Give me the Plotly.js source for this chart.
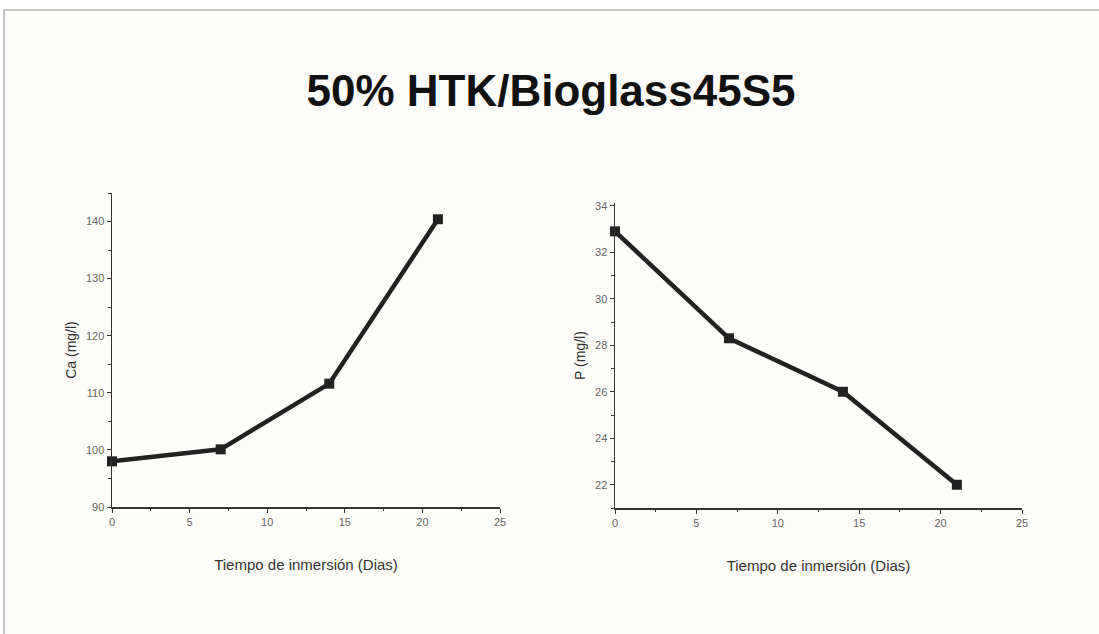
<!DOCTYPE html>
<html><head><meta charset="utf-8">
<script src="https://cdn.plot.ly/plotly-3.0.1.min.js"></script>
<style>html,body{margin:0;padding:0;background:#fff;}#chart{width:1099px;height:634px;}</style>
</head><body><div id="chart"></div>
<script>
const days = [0, 7, 14, 21];
const caValues = [98.0, 100.1, 111.6, 140.4];
const pValues = [32.9, 28.3, 26.0, 22.0];
const xTicks = [0, 5, 10, 15, 20, 25];
const caTicks = [90, 100, 110, 120, 130, 140];
const pTicks = [22, 24, 26, 28, 30, 32, 34];
const chartTitle = "50% HTK/Bioglass45S5";
const xTitle = "Tiempo de inmersión (Dias)";
const caTitle = "Ca (mg/l)";
const pTitle = "P (mg/l)";

const W = 1099, H = 634;
const lineStyle = {color: '#222', width: 4.5};
const markerStyle = {symbol: 'square', size: 10, color: '#222'};

const traces = [
  {x: days, y: caValues, xaxis: 'x', yaxis: 'y', mode: 'lines+markers', line: lineStyle, marker: markerStyle, cliponaxis: false, hoverinfo: 'x+y'},
  {x: days, y: pValues, xaxis: 'x2', yaxis: 'y2', mode: 'lines+markers', line: lineStyle, marker: markerStyle, cliponaxis: false, hoverinfo: 'x+y'}
];

const tickFont = {family: 'Liberation Sans, Arial, sans-serif', size: 11, color: '#666'};
const titleFont = {family: 'Liberation Sans, Arial, sans-serif', size: 15, color: '#333'};

function xAxis(domain) {
  return {
    domain: domain, range: [0, 25], tickvals: xTicks, ticks: 'outside', ticklen: 4, tickwidth: 1, tickcolor: '#333',
    minor: {dtick: 2.5, tick0: 0, ticks: 'outside', ticklen: 2.5, tickcolor: '#333', showgrid: false},
    showline: true, linecolor: '#333', linewidth: 1.5, showgrid: false, zeroline: false,
    tickfont: tickFont, title: {text: xTitle, font: titleFont, standoff: 33}, automargin: false
  };
}
function yAxis(domain, range, ticks, dminor, title, anchor) {
  return {
    domain: domain, range: range, tickvals: ticks, anchor: anchor, ticks: 'outside', ticklen: 4, tickwidth: 1, tickcolor: '#333',
    minor: {dtick: dminor, tick0: 0, ticks: 'outside', ticklen: 2.5, tickcolor: '#333', showgrid: false},
    showline: true, linecolor: '#333', linewidth: 1.5, showgrid: false, zeroline: false,
    tickfont: tickFont, title: {text: title, font: {family: titleFont.family, size: 14, color: '#333'}, standoff: 6}, automargin: false
  };
}

const layout = {
  width: W, height: H,
  margin: {l: 0, r: 0, t: 0, b: 0},
  paper_bgcolor: '#ffffff', plot_bgcolor: 'rgba(0,0,0,0)',
  showlegend: false,
  title: {text: '<b>' + chartTitle + '</b>', font: {family: 'Liberation Sans, Arial, sans-serif', size: 44, color: '#111'}, x: 551/W, xanchor: 'center', y: 1 - 91/H, yanchor: 'middle'},
  xaxis: Object.assign(xAxis([112/W, 500/W]), {anchor: 'y'}),
  xaxis2: Object.assign(xAxis([615/W, 1022/W]), {anchor: 'y2'}),
  yaxis: yAxis([127/H, 441/H], [90, 145], caTicks, 5, caTitle, 'x'),
  yaxis2: yAxis([126/H, 431/H], [21, 34.12], pTicks, 1, pTitle, 'x2'),
  shapes: [
    {type: 'rect', xref: 'paper', yref: 'paper', x0: 4/W, x1: 1.01, y0: -0.01, y1: 1 - 10/H, fillcolor: '#fdfdf9', line: {color: '#b5b5b5', width: 1.5}, layer: 'below'}
  ]
};

Plotly.newPlot('chart', traces, layout, {staticPlot: true, displayModeBar: false});
</script>
</body></html>
